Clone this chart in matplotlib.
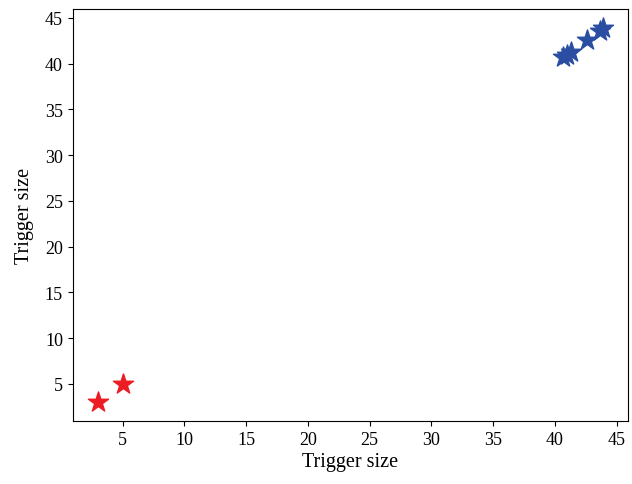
import matplotlib
matplotlib.use("Agg")
import matplotlib.pyplot as plt

plt.rcParams['font.family'] = ['Liberation Serif', 'DejaVu Serif']

# trigger sizes for the two groups
red_x = [3, 5]
red_y = [3, 5]
blue_x = [40.7, 41.0, 41.3, 42.6, 43.7, 43.9]
blue_y = [40.7, 40.9, 41.3, 42.6, 43.6, 43.9]

fig, ax = plt.subplots(figsize=(6.32, 4.85), dpi=100)
ax.scatter(red_x, red_y, marker='*', s=230, color='#ec1c24')
ax.scatter(blue_x, blue_y, marker='*', s=230, color='#2b4ea2')
ax.set_xlabel("Trigger size", fontsize=14.5, labelpad=3)
ax.set_ylabel("Trigger size", fontsize=14.5, labelpad=8)
ax.tick_params(labelsize=13)
fig.subplots_adjust(left=0.115, right=0.994, top=0.979, bottom=0.13)
fig.savefig("out.png")
